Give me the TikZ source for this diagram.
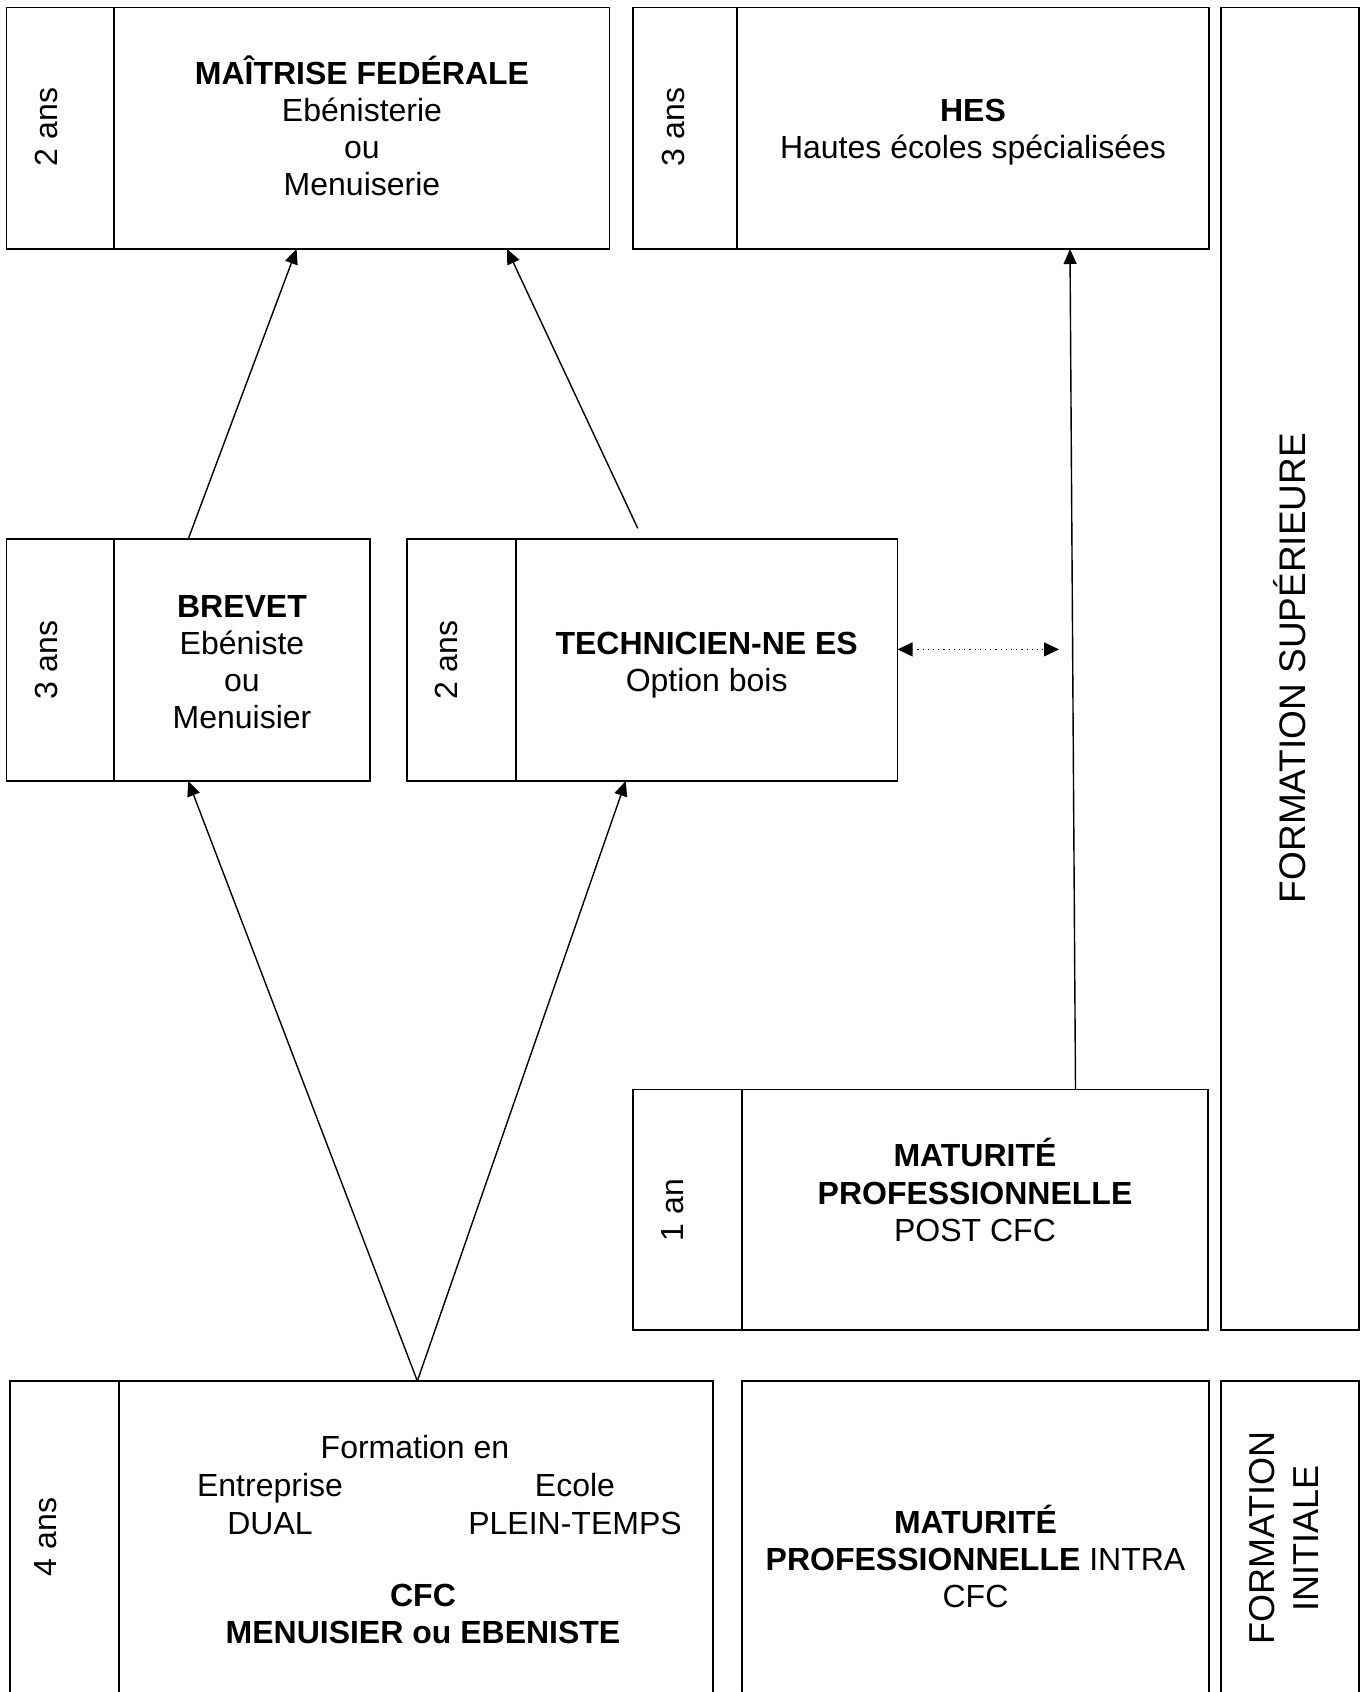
\documentclass[tikz,border=0pt]{standalone}
\usepackage{fontspec}
\setmainfont{Liberation Sans}
\usetikzlibrary{calc,arrows.meta}

\begin{document}
\begin{tikzpicture}[x=0.5pt,y=-0.5pt,
        cadre/.style={draw,line width=0.8pt,inner sep=0pt,outer sep=0pt},
        separe/.style={line width=0.8pt},
        texte/.style={align=center,font=\fontsize{16}{18.6}\selectfont},
        duree/.style={rotate=90,font=\fontsize{16}{18.6}\selectfont},
        niveau/.style={rotate=90,align=center,font=\fontsize{18.5}{22}\selectfont},
        fleche/.style={-{Triangle[length=7.5pt,width=6.5pt]},line width=0.7pt}]

        % Page frame
        \useasboundingbox (0,0) rectangle (1370,1692);
        \clip (0,0) rectangle (1370,1692);

        % Boxes of the upper level
        \node[cadre,minimum width=301.5pt,minimum height=120.75pt] (maitrise) at (308,128.25) {};
        \draw[separe] ($(maitrise.north west)+(107.5,0)$) -- ($(maitrise.south west)+(107.5,0)$);
        \node[cadre,minimum width=288pt,minimum height=120.75pt] (hes) at (921,128.25) {};
        \draw[separe] ($(hes.north west)+(104,0)$) -- ($(hes.south west)+(104,0)$);
        \node[cadre,minimum width=69pt,minimum height=661.25pt] (superieure) at (1290,668.75) {};

        % Boxes of the middle level
        \node[cadre,minimum width=181.75pt,minimum height=121pt] (brevet) at (188.25,660) {};
        \draw[separe] ($(brevet.north west)+(107.5,0)$) -- ($(brevet.south west)+(107.5,0)$);
        \node[cadre,minimum width=245.25pt,minimum height=121pt] (technicien) at (652.25,660) {};
        \draw[separe] ($(technicien.north west)+(109,0)$) -- ($(technicien.south west)+(109,0)$);
        \node[cadre,minimum width=287.5pt,minimum height=120.25pt] (maturitepost) at (920.5,1209.75) {};
        \draw[separe] ($(maturitepost.north west)+(109,0)$) -- ($(maturitepost.south west)+(109,0)$);

        % Boxes of the lower level (cut by the page edge)
        \node[cadre,minimum width=351.65pt,minimum height=169.5pt] (cfc) at (361.35,1550.5) {};
        \draw[separe] ($(cfc.north west)+(109,0)$) -- ($(cfc.south west)+(109,0)$);
        \node[cadre,minimum width=233.5pt,minimum height=169.5pt] (maturiteintra) at (975.5,1550.5) {};
        \node[cadre,minimum width=69pt,minimum height=169.5pt] (initiale) at (1290,1550.5) {};

        % Texts of the boxes
        \node[texte] (maitrise-t) at (362,126) {\textbf{MAÎTRISE FEDÉRALE}\\Ebénisterie\\ou\\Menuiserie};
        \node[texte] (hes-t) at (973,132.3) {\textbf{HES}\\Hautes écoles spécialisées};
        \node[texte] (brevet-t) at (242,662) {\textbf{BREVET}\\Ebéniste\\ou\\Menuisier};
        \node[texte] (technicien-t) at (706.7,665.4) {\textbf{TECHNICIEN-NE ES}\\Option bois};
        \node[texte] (maturitepost-t) at (975,1190) {\textbf{MATURITÉ}\\\textbf{PROFESSIONNELLE}\\POST CFC};
        \node[texte] (formation-t) at (415,1446.6) {Formation en};
        \node[texte] (dual-t) at (270,1504) {Entreprise\\DUAL};
        \node[texte] (ecole-t) at (575,1504) {Ecole\\PLEIN-TEMPS};
        \node[texte] (cfc-t) at (423,1613.7) {\textbf{CFC}\\\textbf{MENUISIER ou EBENISTE}};
        \node[texte] (maturiteintra-t) at (975.5,1556.6) {\textbf{MATURITÉ}\\\textbf{PROFESSIONNELLE} INTRA\\CFC};

        % Durations
        \node[duree] (maitrise-d) at (46,127) {2 ans};
        \node[duree] (hes-d) at (673,127) {3 ans};
        \node[duree] (brevet-d) at (46,660) {3 ans};
        \node[duree] (technicien-d) at (446.6,660) {2 ans};
        \node[duree] (maturitepost-d) at (673,1210) {1 an};
        \node[duree] (cfc-d) at (46,1537) {4 ans};

        % Levels
        \node[niveau] (superieure-t) at (1290,668) {FORMATION SUPÉRIEURE};
        \node[niveau,font=\fontsize{18}{22}\selectfont] (initiale-t) at (1284,1538) {FORMATION\\INITIALE};

        % Arrows between the boxes
        \draw[fleche] ($(cfc.north)+(56,0)$) -- (brevet.south);
        \draw[fleche] ($(cfc.north)+(56,0)$) -- ($(technicien.south)+(-26.5,0)$);
        \draw[fleche] (brevet.north) -- ($(maitrise.south)+(-11.4,0)$);
        \draw[fleche] ($(technicien.north)+(-14.5,-10.7)$) -- ($(maitrise.south)+(199,0)$);
        \draw[fleche] ($(maturitepost.north)+(155,0)$) -- ($(hes.south)+(149,0)$);

        % Dotted link towards the HES arrow
        \coordinate (lien) at (1059,649.4);
        \draw[{Triangle[length=7.5pt,width=7pt]}-{Triangle[length=7.5pt,width=7pt]},dotted,line width=0.6pt] ($(technicien.east)+(0,-10.6)$) -- (lien);

    \end{tikzpicture}
\end{document}
